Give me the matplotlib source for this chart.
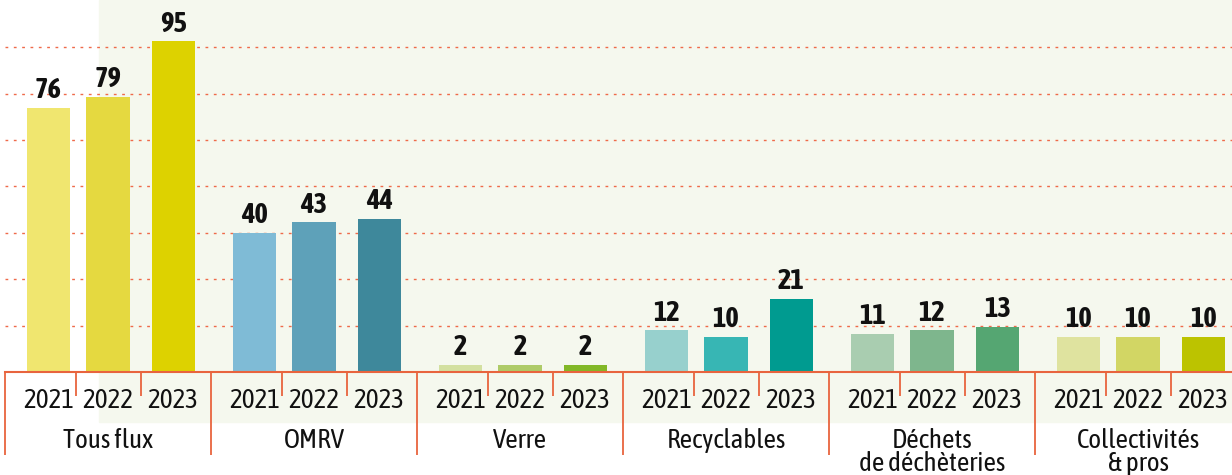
import matplotlib
matplotlib.use("Agg")
import matplotlib.pyplot as plt
from matplotlib.patches import Rectangle

plt.rcParams["font.family"] = ["Asap Condensed", "DejaVu Sans"]

# ---------------------------------------------------------------------------
# Data
# ---------------------------------------------------------------------------
categories = ["Tous flux", "OMRV", "Verre", "Recyclables",
              "Déchets\nde déchèteries", "Collectivités\n& pros"]
years = ["2021", "2022", "2023"]
values = [
    [76, 79, 95],
    [40, 43, 44],
    [2, 2, 2],
    [12, 10, 21],
    [11, 12, 13],
    [10, 10, 10],
]
colors = [
    ["#f0e66f", "#e5d940", "#ddd200"],
    ["#7fbbd6", "#5ea1b9", "#3e889b"],
    ["#d3e0a0", "#aecb68", "#82b827"],
    ["#97d0cd", "#37b6b4", "#009b90"],
    ["#a9cdb0", "#7eb68d", "#55a672"],
    ["#dfe39f", "#d2d664", "#bcc300"],
]
grid_step = 40 / 3

# ---------------------------------------------------------------------------
# Layout (pixels -> figure fractions)
# ---------------------------------------------------------------------------
W, H, DPI = 1232, 475, 100
base_px = 372          # baseline, from top
px_per_unit = 3.48
group_w = 3.0
px_per_x = 206 / group_w
left_px = 5

RED = "#e8643e"
TXT = "#111111"

fig = plt.figure(figsize=(W / DPI, H / DPI), dpi=DPI)

# pale green panel behind the chart
fig.patches.append(Rectangle((99 / W, 1 - 422 / H), 1, 422 / H,
                             transform=fig.transFigure, color="#f5f8ee",
                             zorder=0))

ax = fig.add_axes([left_px / W, 1 - base_px / H,
                   (W - left_px) / W, base_px / H])
ax.set_zorder(1)
ax.set_facecolor("none")
ax.set_xlim(0, (W - left_px) / px_per_x)
ax.set_ylim(0, base_px / px_per_unit)

offsets = [0.63, 1.5, 2.45]
bar_w = 0.63
for g, (vals, cols) in enumerate(zip(values, colors)):
    x0 = g * group_w
    xs = [x0 + o for o in offsets]
    ax.bar(xs, vals, width=bar_w, color=cols, zorder=2)
    for x, v, yr in zip(xs, vals, years):
        ax.annotate(str(v), (x, v), xytext=(0, 7), textcoords="offset points",
                    ha="center", va="baseline", fontsize=20.5,
                    fontweight="bold", color=TXT)
        ax.text(x, -8.2, yr, ha="center", va="center", fontsize=19.5,
                color=TXT)
    # year dividers and group separators under the baseline
    ax.vlines([x0 + 1.03, x0 + 1.98], -24 / px_per_unit, 0, color=RED,
              lw=1.3, clip_on=False)
    ax.vlines([x0], -83 / px_per_unit, 0, color=RED, lw=1.3, clip_on=False)
    ax.text(x0 + group_w / 2, -16.2, categories[g], ha="center", va="top",
            fontsize=19.5, color=TXT, linespacing=0.9)

ax.set_yticks([grid_step * k for k in range(1, 8)])
ax.grid(axis="y", color="#ef6a4a", lw=1, linestyle=(0, (2, 4)), zorder=1)
ax.set_axisbelow(True)
ax.tick_params(left=False, bottom=False, labelleft=False, labelbottom=False)
for s in ("top", "right", "left"):
    ax.spines[s].set_visible(False)
ax.spines["bottom"].set_color(RED)
ax.spines["bottom"].set_linewidth(1.5)
ax.spines["bottom"].set_zorder(3)

fig.savefig("out.png", dpi=DPI)
